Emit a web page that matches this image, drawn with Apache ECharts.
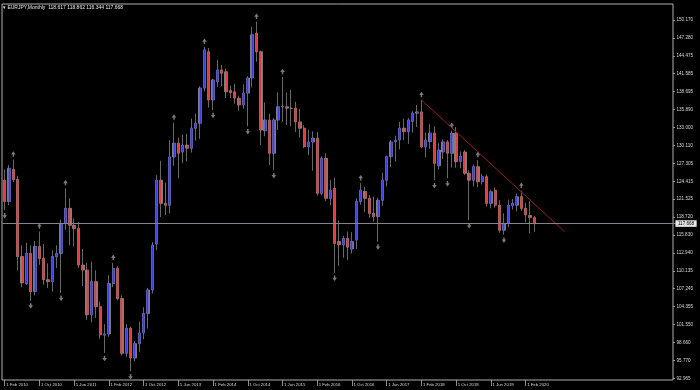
<!DOCTYPE html>
<html><head><meta charset="utf-8">
<script src="https://cdn.jsdelivr.net/npm/echarts@6/dist/echarts.min.js"></script>
<style>html,body{margin:0;padding:0;background:#000;}#c{width:700px;height:390px;}</style>
</head><body><div id="c"></div>
<script>
// ---- data (monthly EURJPY, first bar = Feb 2010) ----
const symbolName = 'EURJPY,Monthly';
const startYear = 2010;
const startMonth = 1; // 0-based month index: Feb
const totalSlots = 155; // visible bar slots incl. empty space on the right
const monthNames = ['Jan','Feb','Mar','Apr','May','Jun','Jul','Aug','Sep','Oct','Nov','Dec'];

const opens = [124.6,121.2,126.3,124.7,112.4,108.1,112.9,106.8,114.0,112.1,108.7,108.4,112.4,112.9,117.7,120.1,117.4,116.9,111.05,110.25,
103.1,108.4,104.4,99.85,100.05,108.1,110.5,105.7,96.96,100.95,96.2,98.5,100.2,103.3,107.06,114.4,124.6,120.9,120.6,128.3,
130.5,129.1,130.2,129.7,132.9,133.7,139.3,145.1,137.4,140.3,142.2,141.9,138.9,138.7,137.67,136.6,138.5,140.9,148.05,145.1,
132.5,134.2,128.9,134.2,136.3,136.3,136.1,136.1,133.9,132.9,129.95,130.7,131.3,122.5,128.1,121.7,123.3,114.8,114.25,115.3,
113.6,115.05,121.2,122.8,121.7,119.3,118.8,121.4,124.6,128.35,130.75,131.0,132.9,132.35,134.0,135.3,135.5,129.9,130.75,132.1,
126.9,129.1,130.7,128.9,132.1,127.6,129.1,125.7,124.6,126.75,124.35,125.15,120.9,123.0,120.6,116.6,117.7,120.5,120.6,121.96,
120.1,118.95,118.617];
const highs = [126.3,127.0,127.9,125.3,114.2,114.6,114.2,114.9,116.4,114.4,111.3,113.4,114.2,118.3,123.3,121.7,118.5,117.9,113.6,111.4,
111.6,110.2,105.2,101.6,109.4,111.4,110.9,106.2,101.6,101.2,98.9,102.0,104.3,107.4,114.7,125.4,127.7,124.2,131.0,133.8,
131.4,131.9,132.0,134.4,135.2,139.6,145.9,145.7,140.8,143.8,143.0,142.4,139.7,140.0,138.1,139.9,141.2,149.1,149.9,145.3,
137.0,135.2,134.5,138.6,141.06,138.6,139.0,137.1,136.0,133.4,132.6,132.4,132.3,128.4,128.9,124.6,125.0,118.2,115.7,116.4,
116.3,121.7,124.1,123.5,122.2,122.0,121.8,125.8,128.5,131.0,131.7,133.9,134.4,134.5,135.6,136.6,137.4,132.2,133.5,133.2,
130.5,131.1,131.0,132.5,133.1,129.2,129.4,126.2,127.1,127.8,125.6,125.5,123.1,123.4,121.4,119.3,121.5,121.6,122.5,122.9,
121.0,121.2,118.862];
const lows = [119.8,120.6,124.3,110.2,107.5,107.9,105.4,106.2,111.1,107.9,107.4,106.8,110.6,106.6,116.7,114.2,114.0,110.6,107.7,102.3,
101.9,102.6,99.3,97.0,99.6,107.5,105.4,96.6,96.4,94.1,95.7,97.2,99.2,100.9,106.5,113.4,118.7,119.0,119.3,126.9,
124.9,127.3,127.6,129.0,130.9,131.2,138.8,136.2,135.8,139.5,139.6,137.7,137.7,136.8,135.7,136.0,133.2,139.4,143.5,130.2,
131.6,127.0,126.2,132.6,133.9,133.4,133.2,132.3,131.4,129.7,128.6,126.1,122.1,122.2,121.3,120.6,109.8,110.9,112.2,111.9,
112.9,113.6,120.7,119.5,118.6,118.0,114.8,120.5,123.6,126.7,127.6,129.5,131.0,130.4,132.2,133.1,129.7,128.2,129.6,124.6,
126.3,128.0,124.9,126.6,126.6,126.5,125.4,118.2,123.6,123.5,123.9,120.4,120.1,120.2,116.2,115.9,117.1,119.9,119.6,119.7,
117.9,116.1,116.344];
const closes = [121.2,126.5,124.7,112.4,108.2,112.9,106.8,114.0,112.1,108.7,108.4,112.4,112.9,117.7,120.1,117.4,116.9,111.05,110.25,103.1,
108.4,104.4,99.9,100.05,108.1,110.5,105.7,96.96,100.95,96.2,98.5,100.2,103.3,107.06,114.2,124.6,120.9,120.6,128.3,130.5,
128.9,130.2,129.7,132.9,133.7,139.3,145.4,137.4,140.6,142.2,141.66,138.7,138.6,137.7,136.6,138.5,140.9,147.8,145.1,132.6,
134.2,128.9,134.2,136.3,136.4,136.1,136.05,133.9,132.9,129.95,130.7,131.3,122.5,128.1,121.7,123.0,114.5,114.3,115.3,113.9,
114.8,121.2,123.0,121.7,119.3,118.8,121.4,124.6,128.35,130.7,131.0,132.9,132.35,134.2,135.3,135.5,129.9,131.0,132.1,127.3,
129.4,130.7,128.9,132.1,127.55,128.4,125.7,124.6,126.75,124.35,125.15,120.9,122.75,120.6,116.6,117.7,120.6,120.9,121.96,120.1,
119.05,118.62,117.668];

const fractalUpIdx = [2, 8, 14, 25, 39, 46, 58, 64, 82, 96, 103, 109, 119];
const fractalDownIdx = [0, 6, 13, 23, 29, 48, 56, 62, 76, 86, 99, 102, 107, 115];

const yTickLabels = ['92.965','95.770','98.660','101.550','104.355','107.245','110.135','112.940','115.830','118.720',
'121.525','124.415','127.305','130.110','133.000','135.890','138.695','141.585','144.475','147.280','150.170'];
const yMin = 92.965, yMax = 150.170;
const yStep = (yMax - yMin) / (yTickLabels.length - 1);

const trendIdx = [96, 129];
const trendPrice = [137.40, 116.35];

// ---- derived ----
const categories = [];
for (let i = 0; i < totalSlots; i++) {
  const m = (startMonth + i) % 12;
  const y = startYear + Math.floor((startMonth + i) / 12);
  categories.push('1 ' + monthNames[m] + ' ' + y);
}
const lastIdx = closes.length - 1;
const candleFull = opens.map((o, i) => [o, closes[i], lows[i], highs[i]]);
const candleBody = opens.map((o, i) => [o, closes[i], Math.min(o, closes[i]), Math.max(o, closes[i])]);
const showTick = (idx) => idx % 8 === 0 && idx <= lastIdx;

const FONT = 'Liberation Sans';
const GREY = '#959595';
const arrowUp = 'path://M5,0 L10,6 L6.6,6 L6.6,10 L3.4,10 L3.4,6 L0,6 Z';

const chart = echarts.init(document.getElementById('c'), null, {renderer: 'canvas'});
chart.setOption({
  backgroundColor: '#000000',
  animation: false,
  title: {
    text: '\u25BE ' + symbolName + '  ' + [opens[lastIdx], highs[lastIdx], lows[lastIdx], closes[lastIdx]].map(v => v.toFixed(3)).join(' '),
    left: 3, top: 5, padding: 0,
    textStyle: {color: '#e6e6e6', fontSize: 5, fontWeight: 'normal', fontFamily: FONT}
  },
  grid: [
    {left: 2.53, right: 24.6, top: 20, bottom: 11.7, show: false},
    {left: 2, top: 4, width: 671, height: 376, show: true, borderColor: '#b0b0b0', borderWidth: 1, backgroundColor: 'transparent', z: 0}
  ],
  xAxis: [
    {
      type: 'category', gridIndex: 0, data: categories, boundaryGap: true, offset: 1.7,
      axisLine: {show: false},
      axisTick: {show: true, alignWithLabel: true, interval: (i) => showTick(i), length: 6, lineStyle: {color: '#b0b0b0', width: 0.8}},
      axisLabel: {interval: (i) => showTick(i), align: 'left', margin: 2.5, padding: [0, 0, 0, 1.5],
        color: '#d8d8d8', fontSize: 4.3, fontFamily: FONT},
      splitLine: {show: false}
    },
    {type: 'value', gridIndex: 1, show: false, min: 0, max: 1}
  ],
  yAxis: [
    {
      type: 'value', gridIndex: 0, position: 'right', offset: -2.4,
      min: yMin, max: yMax, interval: yStep,
      axisLine: {show: false},
      axisTick: {show: true, length: 2, lineStyle: {color: '#b0b0b0', width: 0.8}},
      axisLabel: {
        margin: 3.5, color: '#d8d8d8', fontSize: 4.6, fontFamily: FONT,
        formatter: (v) => {
          const k = Math.round((v - yMin) / yStep);
          return Math.abs(v - (yMin + k * yStep)) < 0.01 ? (yTickLabels[k] || '') : '';
        }
      },
      splitLine: {show: false}
    },
    {type: 'value', gridIndex: 1, show: false, min: 0, max: 1}
  ],
  series: [
    {
      name: 'bars', type: 'candlestick', xAxisIndex: 0, yAxisIndex: 0,
      data: candleFull, barWidth: 2.9, clip: false,
      itemStyle: {color: GREY, color0: GREY, borderColor: GREY, borderColor0: GREY, borderColorDoji: GREY, borderWidth: 0.7},
      markLine: {
        silent: true, symbol: ['none', 'none'], animation: false,
        lineStyle: {color: '#858590', width: 1, type: 'solid'},
        label: {
          position: 'end', distance: 0, formatter: () => closes[lastIdx].toFixed(3),
          color: '#000', backgroundColor: '#e6e6e6', padding: [0.8, 2.5], fontSize: 4.6, fontFamily: FONT
        },
        data: [{yAxis: closes[lastIdx]}]
      }
    },
    {
      name: 'bodies', type: 'candlestick', xAxisIndex: 0, yAxisIndex: 0,
      data: candleBody, barWidth: 2.5, clip: false,
      itemStyle: {color: '#3a3aee', color0: '#e23b3b', borderColor: '#3a3aee', borderColor0: '#e23b3b', borderColorDoji: GREY, borderWidth: 0}
    },
    {
      name: 'trend', type: 'line', xAxisIndex: 0, yAxisIndex: 0,
      data: trendIdx.map((x, i) => [x, trendPrice[i]]),
      showSymbol: false, symbol: 'none', clip: false, silent: true,
      lineStyle: {color: '#9a1e1e', width: 1}
    },
    {
      name: 'fractalUp', type: 'scatter', xAxisIndex: 0, yAxisIndex: 0,
      data: fractalUpIdx.map(i => [i, highs[i]]),
      symbol: arrowUp, symbolSize: [4.5, 5.5], symbolOffset: [0, -5.5], clip: false, silent: true,
      itemStyle: {color: '#9a9a9a'}
    },
    {
      name: 'fractalDown', type: 'scatter', xAxisIndex: 0, yAxisIndex: 0,
      data: fractalDownIdx.map(i => [i, lows[i]]),
      symbol: arrowUp, symbolRotate: 180, symbolSize: [4.5, 5.5], symbolOffset: [0, 5.5], clip: false, silent: true,
      itemStyle: {color: '#9a9a9a'}
    }
  ]
});
</script>
</body></html>
